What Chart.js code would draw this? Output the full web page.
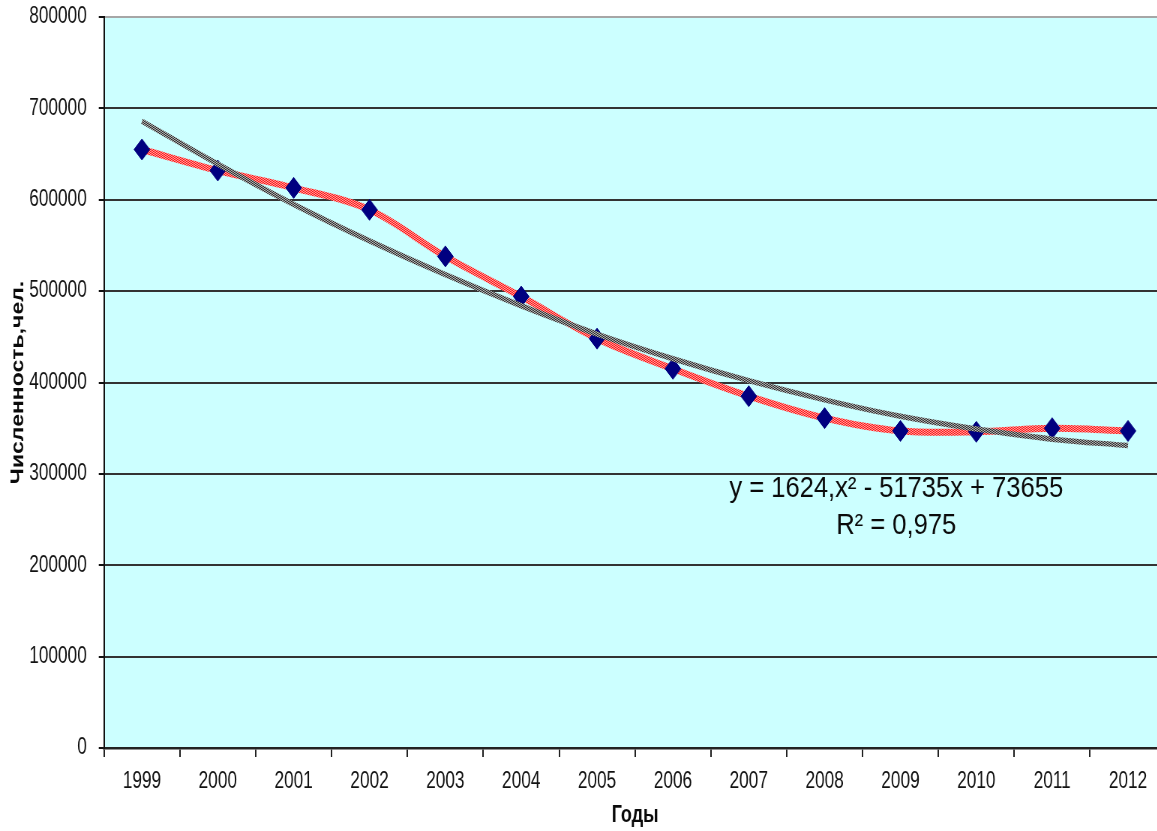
<!DOCTYPE html>
<html lang="ru">
<head>
<meta charset="utf-8">
<title>Численность, 1999–2012</title>
<script src="https://cdn.jsdelivr.net/npm/chart.js@4.4.1/dist/chart.umd.min.js"></script>
<style>
  html, body { margin: 0; padding: 0; background: #ffffff; overflow: hidden; }
  #wrap {
    position: absolute; left: 0; top: 0;
    width: 1570px; height: 831px;
    transform: scaleX(0.75); transform-origin: 0 0;
  }
  canvas { display: block; }
</style>
</head>
<body>
<div id="wrap"><canvas id="chart" width="1570" height="831"></canvas></div>
<script>
// Годы наблюдения
const years = ['1999', '2000', '2001', '2002', '2003', '2004', '2005',
               '2006', '2007', '2008', '2009', '2010', '2011', '2012'];

// Численность, чел.
const population = [655000, 632000, 613000, 589000, 538000, 494000, 448000,
                    415000, 385000, 361000, 347000, 346000, 350000, 347000];

// Полиномиальный тренд (2-я степень)
const trend = [686000, 639000, 595000, 555000, 518000, 484000, 453000,
               426000, 402000, 381000, 363000, 349000, 338000, 331000];

// Деления оси Y
const yTicks = [0, 100000, 200000, 300000, 400000, 500000, 600000, 700000, 800000];

// Уравнение тренда и достоверность аппроксимации
const trendLabel = ['y = 1624,x² - 51735x + 73655', 'R² = 0,975'];

const FONT = '"Liberation Sans", Arial, sans-serif';

// Мелкая «шахматная» заливка линий
function checker(a, b) {
  const c = document.createElement('canvas');
  c.width = 2; c.height = 2;
  const g = c.getContext('2d');
  g.fillStyle = a; g.fillRect(0, 0, 2, 2);
  g.fillStyle = b; g.fillRect(0, 0, 1, 1); g.fillRect(1, 1, 1, 1);
  return g.createPattern(c, 'repeat');
}
const ctx = document.getElementById('chart').getContext('2d');
const redLine = checker('#ff0000', '#ffb4b4');
const greyLine = checker('#1a1a1a', '#c8c8c8');

// Заливка области построения
const plotBackground = {
  id: 'plotBackground',
  beforeDraw(chart) {
    const { ctx, chartArea: a } = chart;
    ctx.save();
    ctx.fillStyle = '#ccffff';
    ctx.fillRect(a.left, a.top, a.right - a.left, a.bottom - a.top);
    ctx.restore();
  }
};

// Подпись линии тренда
const trendText = {
  id: 'trendText',
  afterDraw(chart) {
    const c = chart.ctx;
    c.save();
    c.fillStyle = '#0a0a0a';
    c.font = '29px ' + FONT;
    c.textAlign = 'center';
    c.textBaseline = 'alphabetic';
    const cx = 1195;
    [[trendLabel[0], 497], [trendLabel[1], 534]].forEach(([t, y]) => {
      c.save();
      c.translate(cx, y);
      c.scale(1.175, 1);
      c.fillText(t, 0, 0);
      c.restore();
    });
    c.restore();
  }
};

new Chart(ctx, {
  type: 'line',
  data: {
    labels: years,
    datasets: [
      {
        label: 'Полиномиальная (Численность)',
        data: trend,
        borderColor: greyLine,
        borderWidth: 5.5,
        pointRadius: 0,
        tension: 0.4,
        fill: false
      },
      {
        label: 'Численность',
        data: population,
        borderColor: redLine,
        borderWidth: 7,
        tension: 0.35,
        fill: false,
        pointStyle: 'rectRot',
        pointRadius: 10.5,
        pointBorderWidth: 1,
        pointBackgroundColor: '#000080',
        pointBorderColor: '#000080'
      }
    ]
  },
  options: {
    responsive: false,
    animation: false,
    layout: { padding: { top: 17, right: 15.4, left: 0, bottom: 0 } },
    plugins: {
      legend: { display: false },
      tooltip: { enabled: false }
    },
    scales: {
      x: {
        offset: true,
        afterFit(scale) { scale.height = 83; },
        border: { display: true, color: '#222222', width: 2.5 },
        grid: {
          display: true,
          offset: true,
          drawOnChartArea: false,
          drawTicks: true,
          tickLength: 9,
          color: '#222222',
          lineWidth: 2
        },
        ticks: {
          color: '#111111',
          padding: 11,
          maxRotation: 0,
          autoSkip: false,
          font: { family: FONT, size: 23 }
        },
        title: {
          display: true,
          text: 'Годы',
          color: '#0a0a0a',
          padding: { top: 0, bottom: 1 },
          font: { family: FONT, size: 24, weight: 'bold' }
        }
      },
      y: {
        min: 0,
        max: 800000,
        afterFit(scale) {
          scale.width = 138.7;
          scale.paddingTop = 0;
          scale.paddingBottom = 0;
        },
        afterBuildTicks(scale) { scale.ticks = yTicks.map(v => ({ value: v })); },
        border: { display: true, color: '#111111', width: 2 },
        grid: {
          color: (c) => (c.tick && c.tick.value === 800000 ? '#a6a6a6' : '#333333'),
          tickColor: '#111111',
          lineWidth: 2,
          drawTicks: true,
          tickLength: 7
        },
        ticks: {
          color: '#111111',
          padding: 16,
          font: { family: FONT, size: 23 },
          callback: (v) => String(v)
        },
        title: {
          display: true,
          text: 'Численность,чел.',
          color: '#0a0a0a',
          padding: { top: 11, bottom: 0 },
          font: { family: FONT, size: 23, weight: 'bold' }
        }
      }
    }
  },
  plugins: [plotBackground, trendText]
});
</script>
</body>
</html>
